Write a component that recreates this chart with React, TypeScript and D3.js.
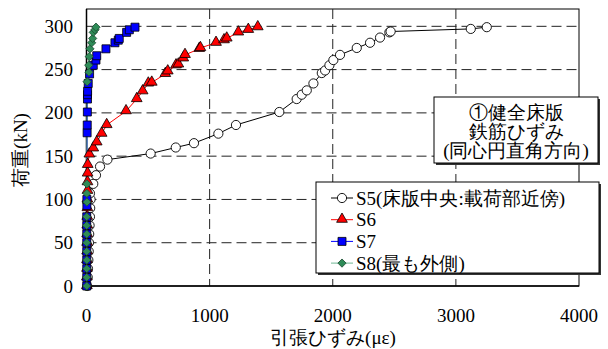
import React from 'react';
import * as d3 from 'd3';

// 荷重-ひずみ 計測値
const s5Load = [0, 10, 20, 30, 40, 50, 60, 70, 80, 90, 100, 107, 118, 128, 138, 146, 153, 160, 165, 176, 186, 201, 216, 221, 226, 234, 246, 249, 255, 261, 267, 275, 281, 287, 293, 294, 297, 299];
const s5Strain = [5, 10, 12, 15, 18, 20, 22, 25, 28, 30, 33, 28, 55, 77, 110, 170, 521, 725, 873, 1071, 1214, 1566, 1707, 1748, 1789, 1843, 1911, 1938, 1973, 2005, 2059, 2195, 2303, 2384, 2460, 2470, 3121, 3251];

const s6Load = [0, 10, 20, 30, 40, 50, 60, 70, 80, 90, 100, 110, 120, 130, 140, 152, 159, 166, 176, 186, 202, 216, 225, 234, 235, 245, 248, 255, 256, 263, 267, 274, 275, 281, 284, 286, 293, 296, 299];
const s6Strain = [3, 3, 4, 4, 5, 5, 5, 6, 6, 7, 7, 8, 8, 9, 10, 23, 55, 83, 123, 164, 321, 408, 456, 502, 530, 640, 660, 727, 746, 786, 800, 916, 925, 1052, 1117, 1139, 1233, 1314, 1391];

const s7Load = [0, 10, 20, 30, 40, 50, 60, 70, 80, 93, 100, 177, 186, 201, 216, 221, 225, 234, 245, 255, 261, 266, 274, 281, 284, 286, 293, 296, 299];
const s7Strain = [2, 2, 2, 2, 2, 2, 2, 2, 2, 3, 3, 5, 6, 7, 8, 8, 9, 14, 25, 55, 77, 83, 158, 231, 258, 266, 326, 348, 394];

const s8Load = [0, 10, 20, 30, 40, 50, 60, 70, 80, 97, 107, 118, 236, 247, 255, 265, 274, 281, 286, 293, 296, 299];
const s8Strain = [2, 2, 2, 2, 2, 2, 2, 2, 2, 3, 3, 3, 5, 20, 18, 22, 28, 42, 50, 55, 69, 77];

const xTicks = [0, 1000, 2000, 3000, 4000];
const yTicks = [0, 50, 100, 150, 200, 250, 300];

const legendLabels = ['S5(床版中央:載荷部近傍)', 'S6', 'S7', 'S8(最も外側)'];
const noteLines = ['①健全床版', '鉄筋ひずみ', '(同心円直角方向)'];

const FONT = 'Liberation Serif';

const W = 608, H = 349;
const m = { left: 86.5, right: 579, top: 9, bottom: 286 };
const x = d3.scaleLinear().domain([0, 4000]).range([m.left, m.right]);
const y = d3.scaleLinear().domain([0, 320]).range([m.bottom, m.top]);

const squarePath = d3.symbol(d3.symbolSquare, 64)() as string;
const diamondPath = d3.symbol(d3.symbolSquare, 34)() as string;
const triPath = d3.symbol(d3.symbolTriangle, 50)() as string;

const series = [
  { load: s5Load, strain: s5Strain, line: '#000', kind: 'circle', fill: 'white' },
  { load: s6Load, strain: s6Strain, line: '#ff0000', kind: 'tri', fill: '#ff0000' },
  { load: s7Load, strain: s7Strain, line: '#0000ff', kind: 'square', fill: '#0000ff' },
  { load: s8Load, strain: s8Strain, line: '#6fb894', kind: 'diamond', fill: '#2e8b57' },
];

function T(props: any) {
  const { children, ...rest } = props;
  return <text fontSize={19} style={{ fontFamily: FONT }} {...rest}>{children}</text>;
}

function Marker({ kind, fill, tx, ty }: { kind: string; fill: string; tx: number; ty: number }) {
  const t = `translate(${tx},${ty})`;
  if (kind === 'circle') return <circle cx={tx} cy={ty} r={4.6} fill={fill} stroke="#000" strokeWidth={0.9} />;
  if (kind === 'tri') return <path d={triPath} transform={`${t} translate(0,-0.5)`} fill={fill} stroke="#000" strokeWidth={0.8} />;
  if (kind === 'square') return <path d={squarePath} transform={t} fill={fill} stroke="#000" strokeWidth={0.8} />;
  return <path d={diamondPath} transform={`${t} rotate(45)`} fill={fill} stroke="#1d4d33" strokeWidth={0.8} />;
}

export default function App() {
  const line = d3.line<[number, number]>();
  return (
    <svg width={W} height={H} style={{ position: 'absolute', left: 0, top: 0 }}>
      <rect x={m.left} y={m.top} width={m.right - m.left} height={m.bottom - m.top} fill="white" stroke="#000" strokeWidth={1} />

      <g stroke="#222" strokeWidth={1} strokeDasharray="10,5">
        {xTicks.slice(1, -1).map(d => <line key={'v' + d} x1={x(d)} x2={x(d)} y1={m.top} y2={m.bottom} />)}
        {yTicks.slice(1).map(d => <line key={'h' + d} x1={m.left} x2={m.right} y1={y(d)} y2={y(d)} />)}
      </g>

      <line x1={m.left} x2={m.right} y1={m.bottom} y2={m.bottom} stroke="#000" strokeWidth={1.5} />
      <line x1={m.left} x2={m.left} y1={m.top} y2={m.bottom} stroke="#000" strokeWidth={1.5} />

      {xTicks.map(d => <T key={'xt' + d} x={x(d)} y={322} textAnchor="middle">{String(d)}</T>)}
      {yTicks.map(d => <T key={'yt' + d} x={73} y={y(d) + 6.5} textAnchor="end">{String(d)}</T>)}

      <T x={333} y={344} textAnchor="middle">引張ひずみ(με)</T>
      <T transform="translate(27,150) rotate(-90)" textAnchor="middle">荷重(kN)</T>

      {series.map((s, si) => (
        <path key={'l' + si} d={line(s.load.map((l, i) => [x(s.strain[i]), y(l)] as [number, number])) || ''}
          fill="none" stroke={s.line} strokeWidth={1} />
      ))}
      {series.map((s, si) => (
        <g key={'m' + si}>
          {s.load.map((l, i) => <Marker key={i} kind={s.kind} fill={s.fill} tx={x(s.strain[i])} ty={y(l)} />)}
        </g>
      ))}

      <rect x={436} y={99} width={164} height={66} fill="#333" />
      <rect x={434} y={97} width={164} height={66} fill="white" stroke="#000" strokeWidth={1} />
      {noteLines.map((t, i) => (
        <T key={t} x={516} y={119 + i * 19} textAnchor="middle">{t}</T>
      ))}

      <rect x={318} y={184} width={283} height={91} fill="#333" />
      <rect x={316} y={182} width={283} height={91} fill="white" stroke="#000" strokeWidth={1} />
      {legendLabels.map((lab, i) => {
        const cy = 198 + i * 21.7;
        const s = series[i];
        return (
          <g key={lab}>
            <line x1={331} x2={353} y1={cy} y2={cy} stroke={s.line} strokeWidth={1} />
            <Marker kind={s.kind} fill={s.fill} tx={342} ty={cy} />
            <T x={356} y={cy + 6.5}>{lab}</T>
          </g>
        );
      })}
    </svg>
  );
}
